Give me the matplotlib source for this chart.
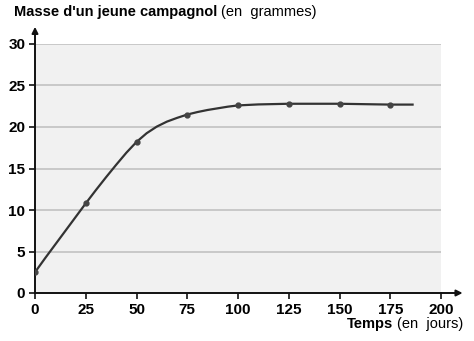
import numpy as np
import matplotlib.pyplot as plt

# points marqués sur la courbe
jours = [0, 25, 50, 75, 100, 125, 150, 175]
masse = [2.5, 10.8, 18.2, 21.5, 22.6, 22.8, 22.8, 22.7]

# tracé de la courbe
courbe_x = [0, 5, 10, 15, 20, 25, 30, 35, 40, 45, 50, 55, 60, 65, 70, 75,
            80, 85, 90, 95, 100, 110, 125, 150, 175, 186]
courbe_y = [2.5, 4.2, 5.85, 7.5, 9.15, 10.8, 12.4, 13.95, 15.45, 16.9, 18.2, 19.25,
            20.05, 20.65, 21.1, 21.5, 21.8, 22.05, 22.25, 22.45, 22.6, 22.72,
            22.8, 22.8, 22.7, 22.7]

x_ticks = [0, 25, 50, 75, 100, 125, 150, 175, 200]
y_ticks = [0, 5, 10, 15, 20, 25, 30]

plt.rcParams['font.family'] = ['Liberation Sans', 'DejaVu Sans']

fig = plt.figure(figsize=(4.74, 3.41), dpi=100, facecolor='white')
ax = fig.add_axes([35 / 474, 48 / 341, 406 / 474, 249 / 341])
ax.set_facecolor('#f1f1f1')

ax.set_xlim(0, 200)
ax.set_ylim(0, 30)
for y in y_ticks[1:]:
    ax.axhline(y, color='#c8c8c8', lw=1.4, zorder=1)

ax.plot(courbe_x, courbe_y, color='#333333', lw=1.6, zorder=3,
        solid_joinstyle='round')
ax.plot(jours, masse, 'o', color='#444444', ms=3.5, zorder=4)

for s in ['top', 'right']:
    ax.spines[s].set_visible(False)
for s in ['left', 'bottom']:
    ax.spines[s].set_linewidth(1.4)
    ax.spines[s].set_color('#111111')

ax.set_xticks(x_ticks)
ax.set_yticks(y_ticks)
ax.set_xticklabels([str(t) for t in x_ticks], fontweight='bold', fontsize=11)
ax.set_yticklabels([str(t) for t in y_ticks], fontweight='bold', fontsize=11)
ax.tick_params(length=4, width=1.2, color='#111111', pad=3)

# flèches des axes
ax.annotate('', xy=(212, 0), xytext=(199, 0), annotation_clip=False,
            arrowprops=dict(arrowstyle='-|>', color='#111111', lw=1.4, mutation_scale=9))
ax.annotate('', xy=(0, 32.4), xytext=(0, 29.8), annotation_clip=False,
            arrowprops=dict(arrowstyle='-|>', color='#111111', lw=1.4, mutation_scale=9))

# titres
t1 = fig.text(14 / 474, 1 - 16 / 341, "Masse d'un jeune campagnol", fontsize=10.5,
              fontweight='bold', va='baseline')
fig.canvas.draw()
bb = t1.get_window_extent()
fig.text(bb.x1 / 474 + 0.008, 1 - 16 / 341, "(en  grammes)", fontsize=10.5, va='baseline')

t2 = fig.text(463 / 474, 1 - 328 / 341, "(en  jours)", fontsize=10.5, va='baseline', ha='right')
fig.canvas.draw()
bb2 = t2.get_window_extent()
fig.text(bb2.x0 / 474 - 0.008, 1 - 328 / 341, "Temps", fontsize=10.5, fontweight='bold',
         va='baseline', ha='right')

fig.savefig('out.png', dpi=100, facecolor='white')
